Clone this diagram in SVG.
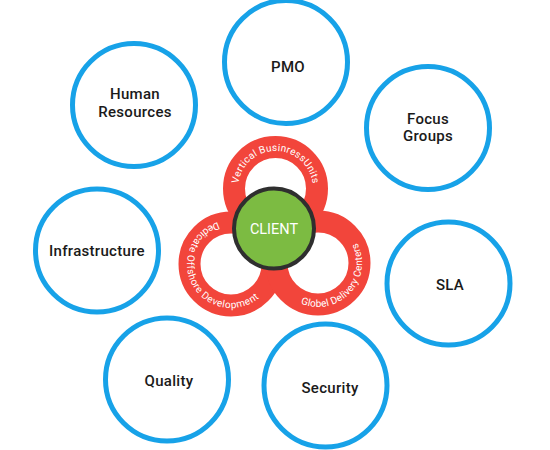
<svg xmlns="http://www.w3.org/2000/svg" width="550" height="450" viewBox="0 0 550 450">
  <style>
    .node { fill: #ffffff; stroke: #17a2e8; stroke-width: 5; }
    .label { font-family: Roboto, "Liberation Sans", sans-serif; font-weight: 500; font-size: 15px; letter-spacing: 0.3px; fill: #1a1a1a; text-anchor: middle; }
    .ring { fill: none; stroke: #f2453b; stroke-width: 22; }
    .ringtext { font-family: Roboto, "Liberation Sans", sans-serif; font-size: 10px; fill: #ffffff; text-anchor: middle; }
    .client { fill: #7cbb42; stroke: #2f2f2f; stroke-width: 4; }
    .clienttext { font-family: Roboto, "Liberation Sans", sans-serif; font-size: 14.5px; fill: #ffffff; text-anchor: middle; }
  </style>
  <defs>
    <path id="arcTop" d="M239.3,198.2 A37.5,37.5 0 1 1 311.7,198.2"/>
    <path id="arcLeft" d="M223.4,220.7 A44,44 0 1 0 263.2,294.0"/>
    <path id="arcRight" d="M279.9,285 A44,44 0 1 0 337.3,223.5"/>
  </defs>
  <rect width="550" height="450" fill="#ffffff"/>

  <g id="pmo">
    <circle class="node" cx="286" cy="62" r="61.5"/>
    <text class="label" x="288" y="72">PMO</text>
  </g>
  <g id="human-resources">
    <circle class="node" cx="134" cy="105" r="61.5"/>
    <text class="label" x="135" y="99">Human</text>
    <text class="label" x="135" y="117">Resources</text>
  </g>
  <g id="focus-groups">
    <circle class="node" cx="428" cy="128" r="61.5"/>
    <text class="label" x="428" y="124">Focus</text>
    <text class="label" x="428" y="141">Groups</text>
  </g>
  <g id="infrastructure">
    <circle class="node" cx="97" cy="250.5" r="61.5"/>
    <text class="label" x="97" y="256">Infrastructure</text>
  </g>
  <g id="sla">
    <circle class="node" cx="448.5" cy="283.5" r="61.5"/>
    <text class="label" x="450" y="290">SLA</text>
  </g>
  <g id="quality">
    <circle class="node" cx="167" cy="379.5" r="61.5"/>
    <text class="label" x="169" y="386">Quality</text>
  </g>
  <g id="security">
    <circle class="node" cx="325.5" cy="385.5" r="61.5"/>
    <text class="label" x="330" y="393">Security</text>
  </g>

  <g id="rings">
    <circle class="ring" cx="275.5" cy="188.5" r="41.5"/>
    <circle class="ring" cx="231" cy="264" r="41.5"/>
    <circle class="ring" cx="318" cy="263" r="41.5"/>
    <text class="ringtext"><textPath href="#arcTop" startOffset="50%" textLength="108" lengthAdjust="spacing">Vertical BusinressUnits</textPath></text>
    <text class="ringtext"><textPath href="#arcLeft" startOffset="50%" textLength="155" lengthAdjust="spacing">Dedicate Offshore Development</textPath></text>
    <text class="ringtext"><textPath href="#arcRight" startOffset="50%" textLength="108" lengthAdjust="spacing">Globel Delivery Centers</textPath></text>
  </g>

  <g id="client">
    <circle class="client" cx="274" cy="228.5" r="40"/>
    <text class="clienttext" x="274" y="234">CLIENT</text>
  </g>
</svg>
